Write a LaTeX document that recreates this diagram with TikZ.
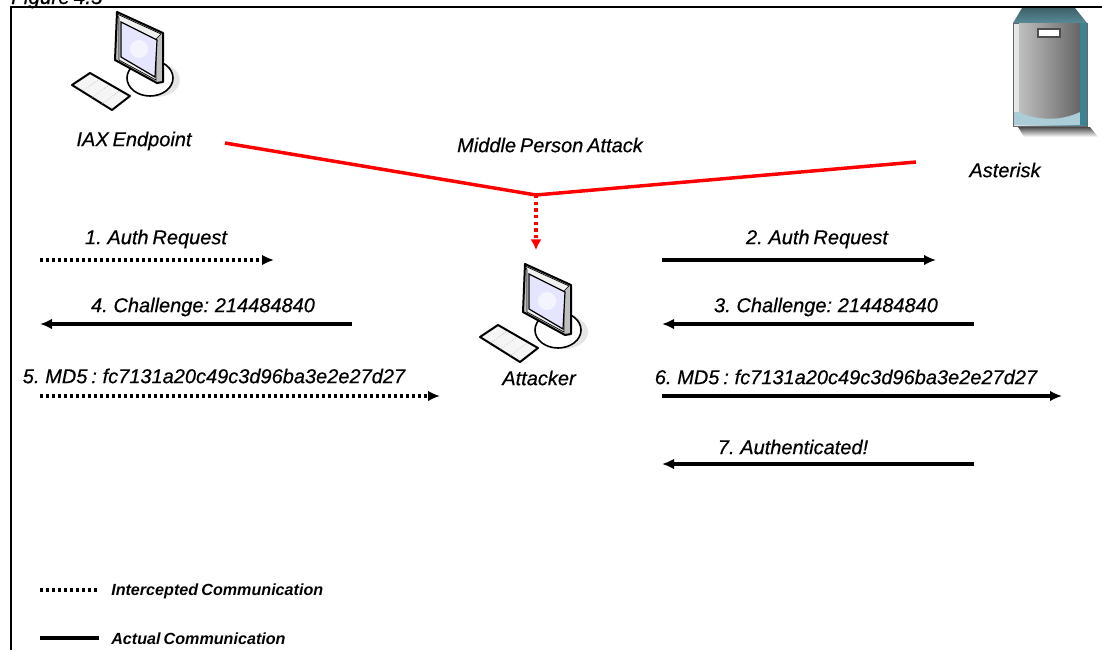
\documentclass[tikz,border=0pt]{standalone}
\usepackage{fontspec}
\setmainfont{Liberation Sans}[WordSpace=0.7, ItalicFeatures={FakeBold=0.5}]
\usepackage{tikz}
\usetikzlibrary{arrows.meta}
\usetikzlibrary{calc}
\definecolor{servertop}{RGB}{88,138,150}
\definecolor{serverside}{RGB}{60,130,145}
\definecolor{serverbase}{RGB}{170,205,215}
\tikzset{msglabel/.style={font=\fontsize{15}{18}\selectfont\itshape, inner sep=0pt}}
\tikzset{keylabel/.style={font=\fontsize{12.1}{14}\selectfont\bfseries\itshape, inner sep=0pt, anchor=west}}
\tikzset{actual/.style={black, line width=2.6pt, -{Latex[length=9pt,width=8pt]}}}
\tikzset{intercepted/.style={actual, dash pattern=on 2.4pt off 2.1pt}}
\tikzset{attack/.style={red, line width=2.6pt}}
\tikzset{computer/.pic={
  \fill[black!10] (84,68) ellipse (24 and 17);
  \draw[fill=white, line width=1.2pt] (78,66) ellipse (23 and 18);
  \draw[fill=black!4, line width=1.5pt, line join=round] (0,73) -- (18,61) -- (58,84) -- (40,98) -- cycle;
  \foreach \k in {.25,.5,.75} {
    \draw[black!30, densely dotted] ($(0,73)!\k!(40,98)$) -- ($(18,61)!\k!(58,84)$);
  }
  \draw[fill=black!25, line width=1.5pt, line join=round] (45,0) -- (91,21) -- (91,70) -- (85,71) -- (43,48) -- cycle;
  \draw[fill=black!6, line width=.5pt] (45,2) -- (89,22) -- (84,27) -- (84,68) -- (47,48) -- (47,6) -- cycle;
  \draw[fill=blue!10, line width=.9pt] (49,10) -- (85,28) -- (83,65) -- (49,45) -- cycle;
  \fill[white, opacity=.6] (67,37) circle (9);
}}
\begin{document}
\begin{tikzpicture}[x=0.75pt, y=-0.75pt]
\useasboundingbox (0,0) rectangle (1102,650);
% frame
\draw[line width=1.5pt] (11,650) -- (11,7) -- (1102,7);
\node[font=\fontsize{15.5}{18}\selectfont\itshape, inner sep=0pt, anchor=base west] (fig) at (11,4) {Figure 4.5};
% machines
\pic at (72,12) {computer};
\pic at (480,264) {computer};
% server
\shade[top color=black!70, bottom color=white] (1018,127) -- (1090,127) -- (1098,137) -- (1024,137) -- cycle;
\shade[top color=servertop!70!black, bottom color=servertop] (1022,8) -- (1075,8) -- (1087,23) -- (1013,23) -- cycle;
\shade[left color=black!8, right color=serverside, draw=black!60] (1013,23) rectangle (1087,126);
\fill[serverside] (1080,23) rectangle (1087,125);
\fill[serverbase] (1014,112) rectangle (1086,125);
\fill[serverside] (1080,100) rectangle (1086,125);
\shade[left color=black!25, middle color=black!8, right color=black!60] (1019,23) -- (1080,23) -- (1080,112) .. controls (1060,121) and (1039,121) .. (1019,112) -- cycle;
\draw[black!70, line width=.8pt, fill=white] (1038,29) rectangle (1060,37);
% labels
\node[msglabel] (endpoint) at (134,141) {IAX Endpoint};
\node[msglabel] (asterisk) at (1005,170) {Asterisk};
\node[msglabel] (mitm) at (550,145) {Middle Person Attack};
\node[msglabel] (attacker) at (539,378) {Attacker};
% attack lines
\coordinate (c1) at (225,143);
\coordinate (c2) at (536,195);
\coordinate (c3) at (916,162);
\coordinate (c4) at (536,250);
\draw[attack, line join=miter] (c1) -- (c2) -- (c3);
\draw[attack, dash pattern=on 2.6pt off 2.4pt, -{Latex[length=8pt,width=8.5pt]}] (c2) -- (c4);
% left side
\node[msglabel] (m1) at (156,239) {1. Auth Request};
\node[msglabel] (m4) at (203,307) {4. Challenge: 214484840};
\node[msglabel] (m5) at (214,376) {5. MD5 : fc7131a20c49c3d96ba3e2e27d27};
\coordinate (a1) at (40,260);
\coordinate (b1) at (274,260);
\coordinate (a4) at (352,324);
\coordinate (b4) at (40,324);
\coordinate (a5) at (40,396);
\coordinate (b5) at (440,396);
\draw[intercepted] (a1) -- (b1);
\draw[actual] (a4) -- (b4);
\draw[intercepted] (a5) -- (b5);
% right side
\node[msglabel] (m2) at (817,239) {2. Auth Request};
\node[msglabel] (m3) at (826,307) {3. Challenge: 214484840};
\node[msglabel] (m6) at (846,377) {6. MD5 : fc7131a20c49c3d96ba3e2e27d27};
\node[msglabel] (m7) at (793,447) {7. Authenticated!};
\coordinate (a2) at (662,260);
\coordinate (b2) at (936,260);
\coordinate (a3) at (974,324);
\coordinate (b3) at (662,324);
\coordinate (a6) at (662,396);
\coordinate (b6) at (1062,396);
\coordinate (a7) at (974,464);
\coordinate (b7) at (662,464);
\draw[actual] (a2) -- (b2);
\draw[actual] (a3) -- (b3);
\draw[actual] (a6) -- (b6);
\draw[actual] (a7) -- (b7);
% key
\coordinate (k1) at (40,590);
\coordinate (k2) at (99,590);
\coordinate (k3) at (40,638);
\coordinate (k4) at (99,638);
\draw[line width=2.6pt, dash pattern=on 2.4pt off 2.1pt] (k1) -- (k2);
\draw[line width=2.6pt] (k3) -- (k4);
\node[keylabel] (key1) at (111,591) {Intercepted Communication};
\node[keylabel] (key2) at (111,639) {Actual Communication};
\end{tikzpicture}
\end{document}
